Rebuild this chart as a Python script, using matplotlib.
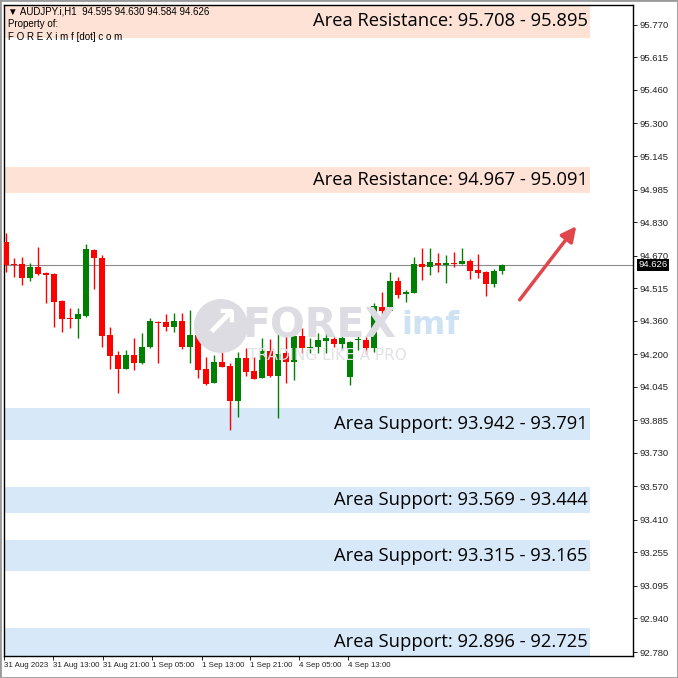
import numpy as np
import matplotlib.pyplot as plt
from matplotlib.patches import Circle, Rectangle
import matplotlib.transforms as mtransforms

# AUDJPY H1 candles (open, high, low, close)
opens = [94.735, 94.630, 94.630, 94.563, 94.616, 94.587, 94.583, 94.454, 94.373, 94.368,
         94.382, 94.697, 94.659, 94.292, 94.196, 94.130, 94.196, 94.158, 94.235, 94.354,
         94.354, 94.330, 94.359, 94.235, 94.292, 94.130, 94.063, 94.163, 94.144, 93.977,
         94.182, 94.120, 94.087, 94.215, 94.096, 94.206, 94.163, 94.287, 94.230, 94.235,
         94.263, 94.273, 94.249, 94.092, 94.268, 94.268, 94.230, 94.425, 94.406, 94.549,
         94.487, 94.492, 94.630, 94.616, 94.635, 94.626, 94.635, 94.630, 94.645, 94.602,
         94.592, 94.535, 94.595]
highs = [94.778, 94.659, 94.664, 94.635, 94.711, 94.592, 94.587, 94.459, 94.420, 94.420,
         94.726, 94.702, 94.673, 94.330, 94.215, 94.220, 94.277, 94.301, 94.373, 94.356,
         94.392, 94.397, 94.397, 94.411, 94.325, 94.187, 94.196, 94.268, 94.158, 94.211,
         94.230, 94.187, 94.277, 94.273, 94.339, 94.292, 94.306, 94.325, 94.277, 94.301,
         94.301, 94.282, 94.292, 94.263, 94.306, 94.282, 94.444, 94.497, 94.592, 94.568,
         94.506, 94.664, 94.707, 94.707, 94.683, 94.673, 94.688, 94.707, 94.654, 94.678,
         94.595, 94.606, 94.630]
lows = [94.592, 94.568, 94.530, 94.549, 94.580, 94.444, 94.330, 94.306, 94.325, 94.277,
        94.377, 94.511, 94.235, 94.130, 94.015, 94.128, 94.125, 94.155, 94.230, 94.158,
        94.311, 94.306, 94.225, 94.158, 94.087, 94.053, 94.062, 94.137, 93.839, 93.901,
        94.096, 94.080, 94.085, 94.092, 93.896, 94.063, 94.077, 94.206, 94.206, 94.206,
        94.206, 94.235, 94.220, 94.053, 94.220, 94.201, 94.211, 94.335, 94.404, 94.468,
        94.449, 94.490, 94.554, 94.578, 94.592, 94.540, 94.616, 94.628, 94.559, 94.563,
        94.478, 94.520, 94.584]
closes = [94.626, 94.624, 94.563, 94.616, 94.583, 94.578, 94.449, 94.368, 94.368, 94.392,
          94.702, 94.659, 94.287, 94.192, 94.130, 94.196, 94.158, 94.235, 94.359, 94.349,
          94.330, 94.359, 94.235, 94.292, 94.125, 94.058, 94.163, 94.139, 93.977, 94.182,
          94.115, 94.082, 94.215, 94.096, 94.201, 94.163, 94.287, 94.230, 94.235, 94.268,
          94.277, 94.249, 94.277, 94.258, 94.273, 94.230, 94.430, 94.406, 94.549, 94.482,
          94.497, 94.630, 94.616, 94.640, 94.626, 94.635, 94.630, 94.645, 94.597, 94.587,
          94.535, 94.597, 94.626]

current_price = 94.626

# supply / demand areas
zone_lows = [95.708, 94.967, 93.791, 93.444, 93.165, 92.725]
zone_highs = [95.895, 95.091, 93.942, 93.569, 93.315, 92.896]
zone_kinds = ["res", "res", "sup", "sup", "sup", "sup"]
zone_labels = ["Area Resistance: 95.708 - 95.895",
               "Area Resistance: 94.967 - 95.091",
               "Area Support: 93.942 - 93.791",
               "Area Support: 93.569 - 93.444",
               "Area Support: 93.315 - 93.165",
               "Area Support: 92.896 - 92.725"]

price_ticks = [95.770, 95.615, 95.460, 95.300, 95.145, 94.985, 94.830, 94.670, 94.515,
               94.360, 94.200, 94.045, 93.885, 93.730, 93.570, 93.410, 93.255, 93.095,
               92.940, 92.780]
time_tick_pos = [-0.25, 5.9, 12.1, 18.25, 24.5, 30.5, 36.6, 42.75]
time_labels = ["31 Aug 2023", "31 Aug 13:00", "31 Aug 21:00", "1 Sep 05:00",
               "1 Sep 13:00", "1 Sep 21:00", "4 Sep 05:00", "4 Sep 13:00"]

arrow_start = (64.0, 94.449)
arrow_end = (71.5, 94.821)

UP = "#008000"
DOWN = "#ff0000"
RES_COL = "#fde2d5"
SUP_COL = "#d7e9f9"
SMALL_FONT = ["Liberation Sans Narrow", "Liberation Sans", "DejaVu Sans"]

fig = plt.figure(figsize=(6.78, 6.78), dpi=100)
W = 678.0
ax = fig.add_axes([4 / W, 1 - 656 / W, (633 - 4) / W, (656 - 5) / W])

ylo, yhi = 92.761, 95.865
ax.set_xlim(-0.25, (633 - 6) / 8.0)
ax.set_ylim(ylo, yhi)

# zones
zone_right = 73.0
for lo, hi, kind, lab in zip(zone_lows, zone_highs, zone_kinds, zone_labels):
    col = RES_COL if kind == "res" else SUP_COL
    ax.add_patch(Rectangle((-1, lo), zone_right + 1, hi - lo, facecolor=col,
                           edgecolor="none", zorder=0))
    mid = (max(lo, ylo) + min(hi, yhi)) / 2
    ax.text(zone_right - 0.25, mid, lab, ha="right", va="center", fontsize=13.2,
            family="Open Sans", color="black", zorder=5)

# watermark
wm = dict(transform=fig.transFigure, zorder=1)
fig.patches.append(Circle((221 / W, 1 - 326 / W), 27 / W, facecolor="#dcdce2",
                          edgecolor="none", transform=fig.transFigure, zorder=1))
fig.text(221 / W, 1 - 324 / W, "\u2197", ha="center", va="center", fontsize=30,
         color="white", fontweight="bold", **wm)
fig.text(242 / W, 1 - 327 / W, "FOREX", ha="left", va="center", fontsize=29.5,
         color="#dcdce2", family="DejaVu Sans", fontweight="bold", **wm)
fig.text(401 / W, 1 - 325 / W, "imf", ha="left", va="center", fontsize=23,
         color="#cfe2f3", family=["Liberation Sans Narrow", "DejaVu Sans"],
         fontweight="bold", **wm)
fig.text(248 / W, 1 - 356 / W, "TRADING LIKE A PRO", ha="left", va="center",
         fontsize=11, color="#e2e2e6", family="DejaVu Sans", **wm)

# current price line
ax.axhline(current_price, color="#8c8c8c", lw=0.8, zorder=2)

# candles
x = np.arange(len(opens))
o = np.array(opens)
c = np.array(closes)
cols = [UP if cc >= oo else DOWN for oo, cc in zip(o, c)]
ax.vlines(x, lows, highs, colors=cols, lw=1.0, zorder=3)
bottoms = np.minimum(o, c)
heights = np.maximum(np.abs(c - o), 0.006)
ax.bar(x, heights, bottom=bottoms, width=0.66, color=cols, edgecolor="none", zorder=4)

# arrow
ax.annotate("", xy=arrow_end, xytext=arrow_start,
            arrowprops=dict(arrowstyle="-|>,head_length=0.9,head_width=0.45",
                            color="#e0474c", lw=2.5), zorder=6)

# axes styling
for s in ax.spines.values():
    s.set_color("black")
    s.set_linewidth(1.0)
ax.yaxis.tick_right()
ax.set_yticks(price_ticks)
ax.set_yticklabels([f"{v:.3f}" for v in price_ticks], family=SMALL_FONT)
ax.tick_params(axis="y", direction="out", length=3, width=0.7, pad=2,
               labelsize=6.8, colors="#222222")
ax.set_xticks(time_tick_pos)
ax.set_xticklabels(time_labels, family=SMALL_FONT)
ax.tick_params(axis="x", direction="out", length=3, width=0.7, pad=1.5,
               labelsize=5.7, colors="#222222")
for t in ax.get_xticklabels():
    t.set_ha("left")

# current price tag
trans = mtransforms.blended_transform_factory(ax.transAxes, ax.transData)
ax.text(1.008, current_price, f"{current_price:.3f}", transform=trans, ha="left",
        va="center", fontsize=6.8, color="white", family=SMALL_FONT,
        bbox=dict(boxstyle="square,pad=0.15", facecolor="black", edgecolor="none"),
        zorder=7, clip_on=False)

# header
fig.text(8 / W, 1 - 12 / W, "\u25bc AUDJPY.i,H1  94.595 94.630 94.584 94.626",
         fontsize=7, va="center", ha="left", family=["Liberation Sans", "DejaVu Sans"])
fig.text(8 / W, 1 - 24 / W, "Property of:", fontsize=7, va="center", ha="left",
         family="Liberation Sans")
fig.text(8 / W, 1 - 37 / W, "F O R E X i m f [dot] c o m", fontsize=7, va="center",
         ha="left", family="Liberation Sans")

fig.patches.append(Rectangle((0, 0), 1, 1, transform=fig.transFigure, fill=False,
                             edgecolor="#9a9a9a", lw=2))

fig.savefig("out.png", dpi=100)
